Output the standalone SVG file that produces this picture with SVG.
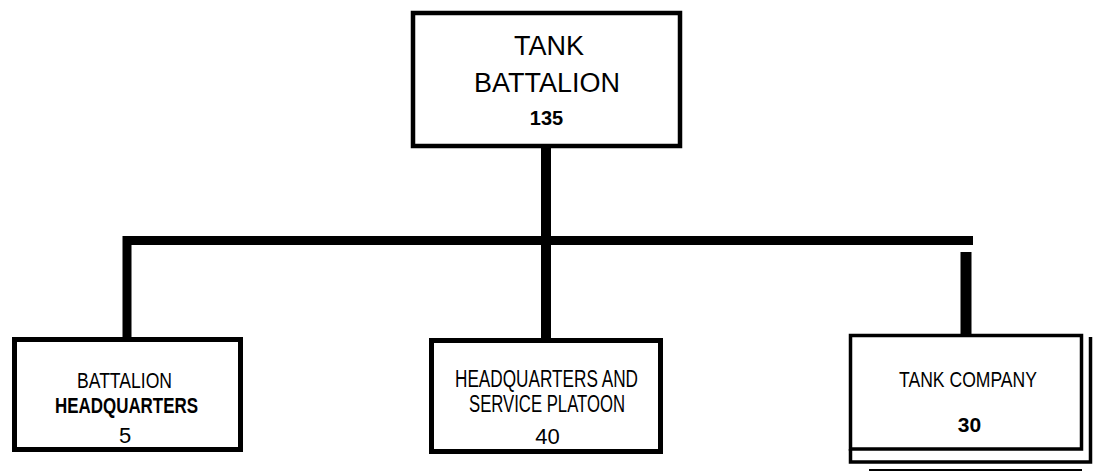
<svg xmlns="http://www.w3.org/2000/svg" width="1095" height="472" viewBox="0 0 1095 472">
<style>
.box{fill:#fff;stroke:#000;stroke-linejoin:miter}
.t{font-family:"Liberation Sans",Arial,sans-serif;fill:#000;text-anchor:middle}
.n{font-family:"Liberation Sans Narrow","Liberation Sans",Arial,sans-serif;fill:#000;text-anchor:middle}
.b{font-weight:bold}
.conn{stroke:#000;fill:none}
</style>
<rect width="1095" height="472" fill="#fff"/>
<g id="connectors">
<line class="conn" x1="546" y1="146" x2="546" y2="340" stroke-width="10"/>
<polyline class="conn" points="127,340 127,240.5 973,240.5" stroke-width="9"/>
<line class="conn" x1="966" y1="252" x2="966" y2="336" stroke-width="11"/>
</g>
<g id="tank-battalion">
<rect class="box" x="413" y="13" width="267" height="133" stroke-width="4.5"/>
<text class="t" x="549" y="55" font-size="27">TANK</text>
<text class="t" x="547" y="92" font-size="27">BATTALION</text>
<text class="t b" x="546.5" y="125" font-size="20">135</text>
</g>
<g id="battalion-hq">
<rect class="box" x="14.5" y="339.5" width="226" height="110" stroke-width="5"/>
<text class="n" x="124.5" y="388" font-size="22" textLength="95" lengthAdjust="spacingAndGlyphs">BATTALION</text>
<text class="n b" x="126.5" y="413" font-size="22" textLength="143" lengthAdjust="spacingAndGlyphs">HEADQUARTERS</text>
<text class="t" x="125" y="443" font-size="22">5</text>
</g>
<g id="hq-service-platoon">
<rect class="box" x="431.5" y="340.5" width="229" height="111" stroke-width="5"/>
<text class="n" x="546.5" y="387" font-size="23" textLength="183" lengthAdjust="spacingAndGlyphs">HEADQUARTERS  AND</text>
<text class="n" x="547" y="412" font-size="23" textLength="156" lengthAdjust="spacingAndGlyphs">SERVICE PLATOON</text>
<text class="t" x="547.5" y="444" font-size="22">40</text>
</g>
<g id="tank-company">
<polyline class="conn" points="850.5,449 850.5,462 1090.5,462 1090.5,337" stroke-width="3.5"/>
<rect class="box" x="850.5" y="335.5" width="231" height="113.5" stroke-width="3.5"/>
<line class="conn" x1="869" y1="470" x2="1082" y2="470" stroke-width="2"/>
<text class="n" x="968" y="387" font-size="22" textLength="138" lengthAdjust="spacingAndGlyphs">TANK COMPANY</text>
<text class="t b" x="969.5" y="432" font-size="21">30</text>
</g>
</svg>
